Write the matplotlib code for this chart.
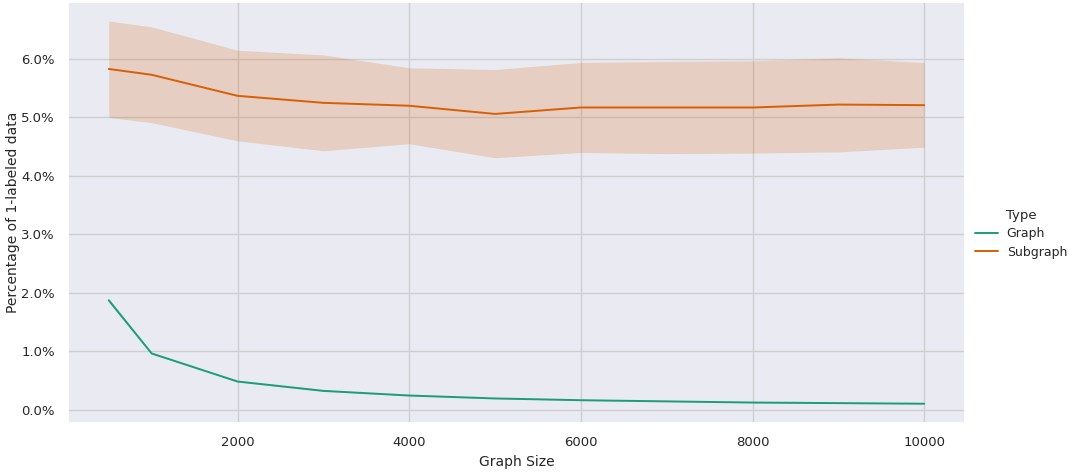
import numpy as np
import matplotlib
matplotlib.use("Agg")
import matplotlib.pyplot as plt
import seaborn as sns
from matplotlib.ticker import PercentFormatter

# Graph sizes tested
sizes = [500, 1000, 2000, 3000, 4000, 5000, 6000, 7000, 8000, 9000, 10000]

# Percentage of 1-labeled data (mean and confidence band), per type
graph_mean = [1.87, 0.96, 0.48, 0.32, 0.24, 0.19, 0.16, 0.14, 0.12, 0.11, 0.10]
graph_low = [1.83, 0.95, 0.47, 0.31, 0.235, 0.185, 0.155, 0.135, 0.115, 0.105, 0.095]
graph_high = [1.91, 0.97, 0.49, 0.33, 0.245, 0.195, 0.165, 0.145, 0.125, 0.115, 0.105]

sub_mean = [5.83, 5.73, 5.37, 5.25, 5.20, 5.06, 5.17, 5.17, 5.17, 5.22, 5.21]
sub_low = [5.00, 4.91, 4.60, 4.43, 4.55, 4.31, 4.40, 4.38, 4.39, 4.41, 4.49]
sub_high = [6.65, 6.55, 6.15, 6.07, 5.85, 5.82, 5.94, 5.96, 5.97, 6.02, 5.94]

types = ["Graph", "Subgraph"]

sns.set_theme(style="darkgrid", rc={"grid.color": "#cfcfd2"})
plt.rcParams['font.family'] = ['DejaVu Sans']
colors = sns.color_palette("Dark2", 2)

fig, ax = plt.subplots(figsize=(10.69, 4.72), dpi=100)
fig.subplots_adjust(left=0.0636, right=0.9027, top=0.996, bottom=0.1035)

series = [(graph_mean, graph_low, graph_high), (sub_mean, sub_low, sub_high)]
for name, color, (mean, low, high) in zip(types, colors, series):
    ax.plot(sizes, mean, color=color, lw=1.4, label=name)
    ax.fill_between(sizes, low, high, color=color, alpha=0.2, linewidth=0)

ax.yaxis.set_major_formatter(PercentFormatter(xmax=100, decimals=1))
ax.set_xticks([2000, 4000, 6000, 8000, 10000])
ax.tick_params(labelsize=9.5)
ax.set_xlabel("Graph Size", fontsize=10)
ax.set_ylabel("Percentage of 1-labeled data", fontsize=10, labelpad=1)

handles, labels = ax.get_legend_handles_labels()
fig.legend(handles, labels, title="Type", loc="center left",
           bbox_to_anchor=(0.902, 0.505), frameon=False,
           fontsize=9, title_fontsize=9.5, handlelength=1.8,
           handletextpad=0.7, labelspacing=0.45)

fig.savefig("out.png", dpi=100)
